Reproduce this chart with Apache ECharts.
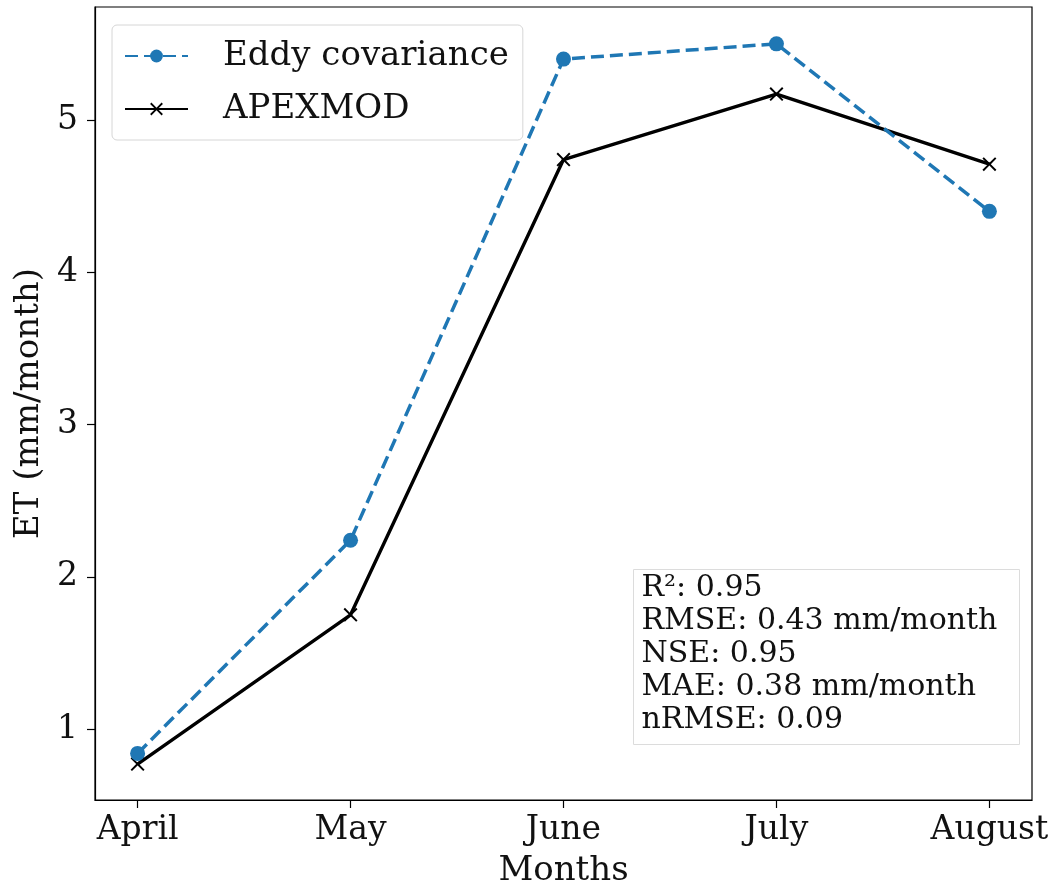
<!DOCTYPE html>
<html>
<head>
<meta charset="utf-8">
<script src="https://cdn.jsdelivr.net/npm/echarts@6/dist/echarts.min.js"></script>
<style>
  html, body { margin: 0; padding: 0; background: #fff; }
  #chart { width: 1053px; height: 888px; }
</style>
</head>
<body>
<div id="chart"></div>
<script>
// Monthly evapotranspiration: observed vs simulated
const months = ['April', 'May', 'June', 'July', 'August'];
const eddyCovariance = [0.84, 2.24, 5.40, 5.50, 4.40];
const apexmod = [0.77, 1.75, 4.74, 5.17, 4.71];
const yTicks = [1, 2, 3, 4, 5];
const statsLines = [
  'R\u00B2: 0.95',
  'RMSE: 0.43 mm/month',
  'NSE: 0.95',
  'MAE: 0.38 mm/month',
  'nRMSE: 0.09'
];

const FONT = 'DejaVu Serif';
const xTicks = months.map((_, i) => i);
const toPairs = arr => arr.map((v, i) => [i, v]);

// x-shaped marker
const crossPath = 'path://M0,1L1,0L5,4L9,0L10,1L6,5L10,9L9,10L5,6L1,10L0,9L4,5Z';

const chart = echarts.init(document.getElementById('chart'), null, { renderer: 'canvas' });

chart.setOption({
  backgroundColor: '#fff',
  animation: false,
  textStyle: { fontFamily: FONT },
  grid: {
    left: 95, right: 21, top: 7, bottom: 88,
    outerBoundsMode: 'none',
    containLabel: false,
    show: true, borderColor: '#000', borderWidth: 1.2, backgroundColor: 'transparent'
  },
  legend: {
    orient: 'vertical',
    left: 112, top: 25,
    padding: [14, 14, 14, 12],
    itemGap: 19,
    itemWidth: 63, itemHeight: 16,
    backgroundColor: 'rgba(255,255,255,0.8)',
    borderColor: '#d6d6d6', borderWidth: 1, borderRadius: 5,
    textStyle: { fontFamily: FONT, fontSize: 34, lineHeight: 32, color: '#111', padding: [0, 0, 0, 30] },
    data: ['Eddy covariance', 'APEXMOD']
  },
  graphic: [{
    type: 'group',
    left: 633, top: 569,
    z: 100,
    children: [
      {
        type: 'rect',
        shape: { x: 0, y: 0, width: 386, height: 175 },
        style: { fill: 'rgba(255,255,255,0.8)', stroke: '#dcdcdc', lineWidth: 1 }
      },
      {
        type: 'text',
        x: 8, y: 2,
        style: {
          text: statsLines.join('\n'),
          fontFamily: FONT, fontSize: 30, lineHeight: 33, fill: '#111'
        }
      }
    ]
  }],
  xAxis: {
    type: 'value', min: -0.2, max: 4.2,
    name: 'Months', nameLocation: 'middle', nameGap: 54,
    nameTextStyle: { fontFamily: FONT, fontSize: 34, color: '#111' },
    splitLine: { show: false },
    axisLine: { show: true, onZero: false, lineStyle: { color: '#000', width: 1.2 } },
    axisTick: { show: true, customValues: xTicks, length: 8, lineStyle: { color: '#000', width: 1.2 } },
    axisLabel: {
      customValues: xTicks, margin: 14,
      fontFamily: FONT, fontSize: 33, color: '#111',
      formatter: v => months[Math.round(v)]
    }
  },
  yAxis: {
    type: 'value', min: 0.534, max: 5.742,
    name: 'ET (mm/month)', nameLocation: 'middle', nameGap: 48,
    nameTextStyle: { fontFamily: FONT, fontSize: 34, color: '#111' },
    splitLine: { show: false },
    axisLine: { show: true, onZero: false, lineStyle: { color: '#000', width: 1.2 } },
    axisTick: { show: true, customValues: yTicks, length: 8, lineStyle: { color: '#000', width: 1.2 } },
    axisLabel: {
      customValues: yTicks, margin: 17,
      fontFamily: FONT, fontSize: 33, color: '#111'
    }
  },
  series: [
    {
      name: 'Eddy covariance',
      type: 'line',
      data: toPairs(eddyCovariance),
      symbol: 'circle', symbolSize: 15,
      itemStyle: { color: '#1f77b4' },
      lineStyle: { color: '#1f77b4', width: 3.5, type: [13, 6] },
      z: 3
    },
    {
      name: 'APEXMOD',
      type: 'line',
      data: toPairs(apexmod),
      symbol: crossPath, symbolSize: 14,
      itemStyle: { color: '#000' },
      lineStyle: { color: '#000', width: 3.4 },
      z: 2
    }
  ]
});
</script>
</body>
</html>
